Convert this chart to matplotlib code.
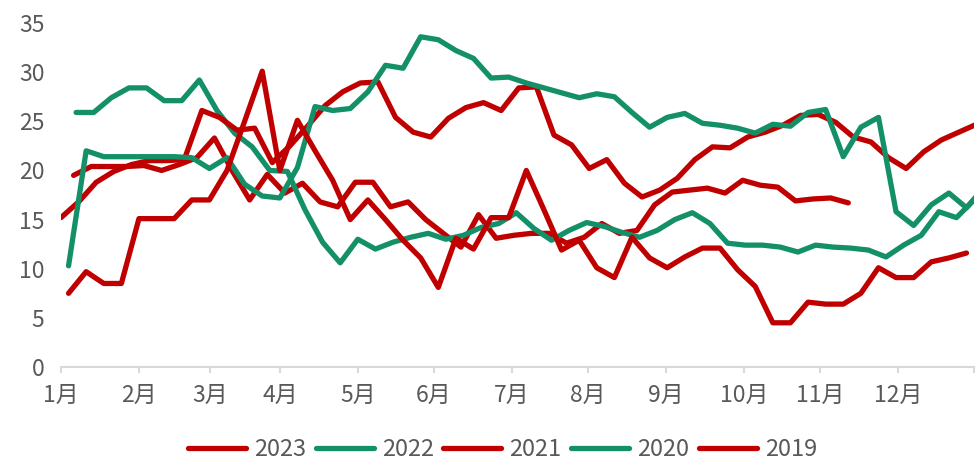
import numpy as np
import matplotlib.pyplot as plt

plt.rcParams['font.family'] = ['Noto Sans CJK SC', 'DejaVu Sans']

# weekly values, x = day of year of first week + 7 days per step
start_2023 = 5
v2023 = [19.5, 20.4, 20.4, 20.4, 20.5, 20.0, 20.6, 21.3, 23.3, 20.0,
         17.0, 19.6, 17.7, 18.7, 16.8, 16.3, 18.8, 18.8, 16.3, 16.8,
         15.0, 13.6, 12.2, 15.5, 13.1, 13.4, 13.6, 13.6, 12.6, 13.2,
         14.6, 13.6, 13.9, 16.5, 17.8, 18.0, 18.2, 17.7, 19.0, 18.5,
         18.3, 16.9, 17.1, 17.2, 16.7]

start_2022 = 6
v2022 = [25.9, 25.9, 27.4, 28.4, 28.4, 27.1, 27.1, 29.2, 26.1, 23.8,
         22.4, 20.0, 19.9, 16.0, 12.7, 10.6, 13.0, 12.0, 12.7, 13.2,
         13.6, 13.0, 13.4, 14.2, 14.6, 15.7, 14.1, 12.9, 13.9, 14.7,
         14.3, 13.7, 13.2, 13.9, 15.0, 15.7, 14.6, 12.6, 12.4, 12.4,
         12.2, 11.7, 12.4, 12.2, 12.1, 11.9, 11.2, 12.4, 13.4, 15.8,
         15.2, 17.0]

start_2021 = 0
v2021 = [15.2, 16.8, 18.8, 19.9, 20.6, 21.0, 21.0, 21.1, 26.1, 25.4,
         24.1, 24.3, 20.8, 22.5, 24.5, 26.6, 28.0, 28.9, 29.0, 25.4,
         23.9, 23.4, 25.3, 26.4, 26.9, 26.1, 28.4, 28.5, 23.6, 22.6,
         20.2, 21.1, 18.7, 17.3, 18.0, 19.2, 21.1, 22.4, 22.3, 23.4,
         23.9, 24.6, 25.6, 25.7, 24.9, 23.4, 22.9, 21.3, 20.2, 21.9,
         23.1, 23.9, 24.7]

start_2020 = 3
v2020 = [10.3, 22.0, 21.4, 21.4, 21.4, 21.4, 21.4, 21.3, 20.2, 21.3,
         18.6, 17.4, 17.2, 20.3, 26.5, 26.1, 26.3, 28.0, 30.7, 30.4,
         33.6, 33.3, 32.2, 31.4, 29.4, 29.5, 28.9, 28.4, 27.9, 27.4,
         27.8, 27.5, 25.9, 24.4, 25.4, 25.8, 24.8, 24.6, 24.3, 23.8,
         24.7, 24.5, 25.9, 26.2, 21.4, 24.4, 25.4, 15.8, 14.4, 16.5,
         17.7, 16.2, 18.3]

start_2019 = 3
v2019 = [7.5, 9.7, 8.5, 8.5, 15.1, 15.1, 15.1, 17.0, 17.0, 20.0,
         25.0, 30.1, 20.0, 25.1, 22.0, 19.0, 15.0, 17.0, 15.0, 12.9,
         11.1, 8.1, 13.1, 12.0, 15.2, 15.2, 20.0, 16.0, 11.9, 12.9,
         10.1, 9.1, 13.2, 11.1, 10.1, 11.2, 12.1, 12.1, 9.9, 8.2,
         4.5, 4.5, 6.6, 6.4, 6.4, 7.5, 10.1, 9.1, 9.1, 10.7,
         11.1, 11.6]

month_pos = [0, 31.0, 59.2, 87.1, 118.1, 148.3, 179.3, 209.5, 240.6, 271.6, 301.8, 332.8, 363]
month_lbl = ['1月', '2月', '3月', '4月', '5月', '6月', '7月', '8月', '9月', '10月', '11月', '12月', '']

red = '#C00000'
green = '#149069'
grey = '#595959'

series = [('2023', start_2023, v2023, red),
          ('2022', start_2022, v2022, green),
          ('2021', start_2021, v2021, red),
          ('2020', start_2020, v2020, green),
          ('2019', start_2019, v2019, red)]

fig = plt.figure(figsize=(9.76, 4.66), dpi=100)
ax = fig.add_axes([0.0625, 0.2124, 0.9355, 0.7382])

for name, s, vals, c in series:
    x = s + 7 * np.arange(len(vals))
    ax.plot(x, vals, color=c, lw=3.8, label=name,
            solid_joinstyle='round', solid_capstyle='round')

ax.set_xlim(0, 363)
ax.set_ylim(0, 35)
ax.set_yticks(range(0, 36, 5))
ax.set_xticks(month_pos)
ax.set_xticklabels(month_lbl)

for sp in ['left', 'right', 'top']:
    ax.spines[sp].set_visible(False)
ax.spines['bottom'].set_color('#D9D9D9')
ax.spines['bottom'].set_linewidth(1.5)
ax.tick_params(axis='y', length=0, pad=12, labelsize=16.5, labelcolor=grey)
ax.tick_params(axis='x', length=4, width=1.5, color='#D9D9D9', pad=8,
               labelsize=16.5, labelcolor=grey)

leg = fig.legend(loc='lower center', ncol=5, frameon=False, fontsize=17,
                 bbox_to_anchor=(0.515, -0.035), handlelength=2.45,
                 handletextpad=0.35, columnspacing=0.4)
for t in leg.get_texts():
    t.set_color(grey)

fig.savefig('out.png', dpi=100)
